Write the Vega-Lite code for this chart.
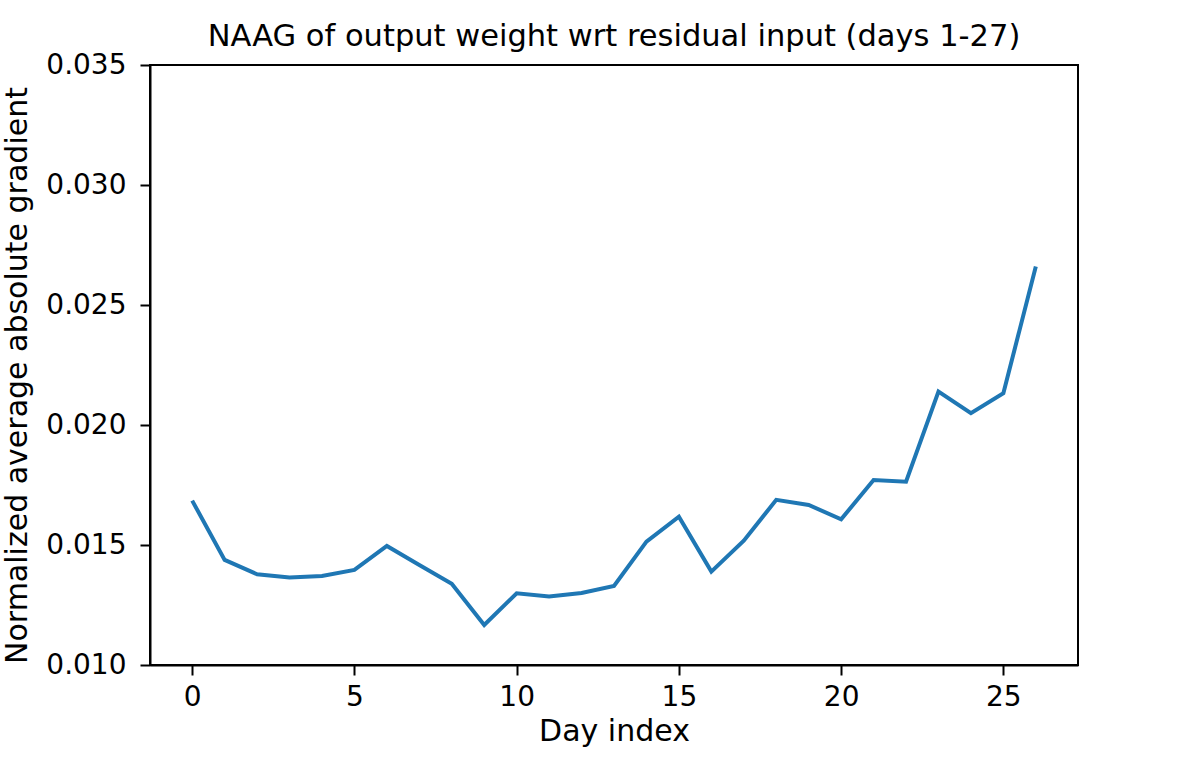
{
  "$schema": "https://vega.github.io/schema/vega-lite/v6.json",
  "description": "NAAG of output weight wrt residual input, days 1-27",
  "autosize": "none",
  "padding": {"left": 150, "top": 65, "right": 118, "bottom": 99},
  "width": 928,
  "height": 600,
  "background": "white",
  "title": {
    "text": "NAAG of output weight wrt residual input (days 1-27)",
    "font": "DejaVu Sans",
    "fontSize": 30.5,
    "fontWeight": "normal",
    "color": "black",
    "anchor": "middle",
    "offset": -1
  },
  "config": {
    "view": {"stroke": "black", "strokeWidth": 2},
    "axis": {
      "grid": false,
      "domainColor": "black",
      "domainWidth": 2,
      "tickColor": "black",
      "tickWidth": 2,
      "tickSize": 10,
      "labelFont": "DejaVu Sans",
      "labelFontSize": 28,
      "labelColor": "black",
      "titleFont": "DejaVu Sans",
      "titleFontSize": 30,
      "titleFontWeight": "normal",
      "titleColor": "black"
    }
  },
  "data": {
    "values": [
      {"day": 0, "naag": 0.01685},
      {"day": 1, "naag": 0.01438},
      {"day": 2, "naag": 0.01378},
      {"day": 3, "naag": 0.01365},
      {"day": 4, "naag": 0.01371},
      {"day": 5, "naag": 0.01396},
      {"day": 6, "naag": 0.01496},
      {"day": 7, "naag": 0.01417},
      {"day": 8, "naag": 0.01338},
      {"day": 9, "naag": 0.01167},
      {"day": 10, "naag": 0.01299},
      {"day": 11, "naag": 0.01285},
      {"day": 12, "naag": 0.01300},
      {"day": 13, "naag": 0.01329},
      {"day": 14, "naag": 0.01514},
      {"day": 15, "naag": 0.01618},
      {"day": 16, "naag": 0.01389},
      {"day": 17, "naag": 0.01518},
      {"day": 18, "naag": 0.01688},
      {"day": 19, "naag": 0.01667},
      {"day": 20, "naag": 0.01607},
      {"day": 21, "naag": 0.01771},
      {"day": 22, "naag": 0.01764},
      {"day": 23, "naag": 0.02139},
      {"day": 24, "naag": 0.02049},
      {"day": 25, "naag": 0.02132},
      {"day": 26, "naag": 0.02660}
    ]
  },
  "mark": {"type": "line", "color": "#1f77b4", "strokeWidth": 4, "clip": true},
  "encoding": {
    "x": {
      "field": "day",
      "type": "quantitative",
      "scale": {"domain": [-1.3, 27.3], "nice": false, "zero": false},
      "axis": {
        "title": "Day index",
        "values": [0, 5, 10, 15, 20, 25],
        "labelPadding": 8,
        "labelFlush": false,
        "titleY": 75,
        "titleBaseline": "alphabetic"
      }
    },
    "y": {
      "field": "naag",
      "type": "quantitative",
      "scale": {"domain": [0.01, 0.035], "nice": false, "zero": false},
      "axis": {
        "title": "Normalized average absolute gradient",
        "values": [0.01, 0.015, 0.02, 0.025, 0.03, 0.035],
        "format": ".3f",
        "labelPadding": 14,
        "labelFlush": false,
        "titleX": -124,
        "titleY": 310,
        "titleAngle": -90,
        "titleAlign": "center",
        "titleBaseline": "alphabetic"
      }
    }
  }
}
